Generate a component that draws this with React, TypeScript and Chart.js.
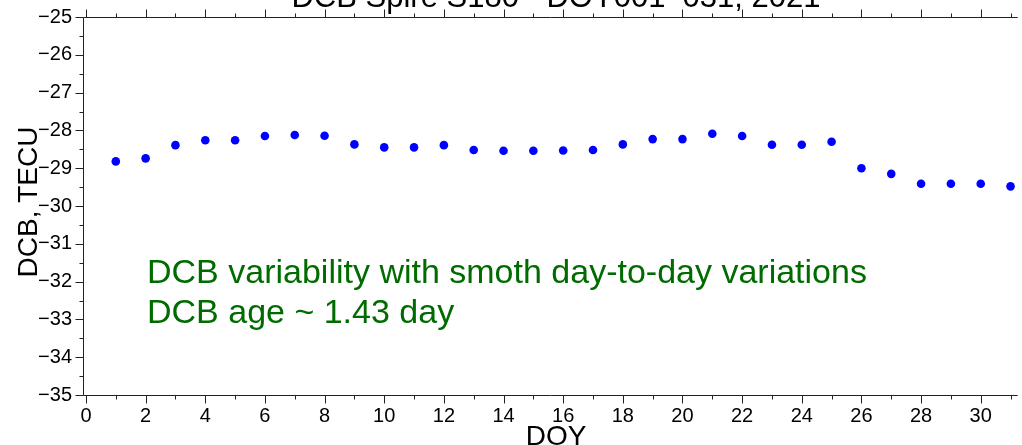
import React, { useEffect, useRef } from "react";
import { Chart, registerables } from "chart.js";

Chart.register(...registerables);

// ---- data ----
const doy: number[] = [
  1, 2, 3, 4, 5, 6, 7, 8, 9, 10, 11, 12, 13, 14, 15, 16,
  17, 18, 19, 20, 21, 22, 23, 24, 25, 26, 27, 28, 29, 30, 31,
];
const dcbValues: number[] = [
  -28.82, -28.74, -28.39, -28.26, -28.26, -28.15, -28.12, -28.14, -28.37, -28.45, -28.45,
  -28.39, -28.52, -28.54, -28.54, -28.53, -28.52, -28.37, -28.23, -28.23, -28.09, -28.15,
  -28.38, -28.38, -28.3, -29.0, -29.15, -29.41, -29.41, -29.41, -29.48,
];
const titleText = "DCB Spire S180 - DOY001\u2013031, 2021";
const xAxisTitle = "DOY";
const yAxisTitle = "DCB, TECU";
const noteLines: string[] = [
  "DCB variability with smoth day-to-day variations",
  "DCB age ~ 1.43 day",
];
const xRange = { min: -0.1, max: 31.24 };
const yRange = { min: -35, max: -25 };
const xMinorTicks: number[] = Array.from({ length: 32 }, (_, i) => i); // 0..31
const yMinorTicks: number[] = Array.from({ length: 21 }, (_, i) => -35 + i * 0.5);

const FONT = "'Liberation Sans', Arial, Helvetica, sans-serif";
const GREEN = "rgb(0,108,0)";

const minus = (v: number) => String(v).replace("-", "\u2212");

const decorPlugin = {
  id: "decor",
  afterDraw(chart: any) {
    const { ctx, chartArea: a, scales } = chart;
    const x = scales.x;
    const y = scales.y;
    ctx.save();
    ctx.strokeStyle = "#222";
    ctx.lineWidth = 1;
    const L = Math.round(a.left) + 0.5;
    const T = Math.round(a.top) + 0.5;
    const B = Math.round(a.bottom) + 0.5;
    ctx.beginPath();
    ctx.moveTo(L, B);
    ctx.lineTo(L, T);
    ctx.lineTo(a.right, T);
    ctx.moveTo(L, B);
    ctx.lineTo(a.right, B);
    for (const v of xMinorTicks) {
      const px = Math.round(x.getPixelForValue(v)) + 0.5;
      const len = v % 2 === 0 ? 8 : 4;
      ctx.moveTo(px, B);
      ctx.lineTo(px, B + len);
      ctx.moveTo(px, T);
      ctx.lineTo(px, T - len);
    }
    for (const v of yMinorTicks) {
      const py = Math.round(y.getPixelForValue(v)) + 0.5;
      const len = Number.isInteger(v) ? 8 : 4;
      ctx.moveTo(L, py);
      ctx.lineTo(L - len, py);
    }
    ctx.stroke();

    // title (partly cut at the top in the reference)
    ctx.fillStyle = "#000";
    ctx.font = `31px ${FONT}`;
    ctx.textAlign = "center";
    ctx.textBaseline = "alphabetic";
    ctx.fillText(titleText, 556, 7);

    // x axis title
    ctx.font = `28px ${FONT}`;
    ctx.fillText(xAxisTitle, 556, 445);

    // y axis title
    ctx.save();
    ctx.translate(37, 202);
    ctx.rotate(-Math.PI / 2);
    ctx.textAlign = "center";
    ctx.textBaseline = "alphabetic";
    ctx.fillText(yAxisTitle, 0, 0);
    ctx.restore();

    // annotations
    ctx.fillStyle = GREEN;
    ctx.font = `34px ${FONT}`;
    ctx.textAlign = "left";
    ctx.textBaseline = "alphabetic";
    ctx.fillText(noteLines[0], 147, 283);
    ctx.fillText(noteLines[1], 147, 323);
    ctx.restore();
  },
};

export default function App() {
  const canvasRef = useRef<HTMLCanvasElement | null>(null);

  useEffect(() => {
    if (!canvasRef.current) return;
    const chart = new Chart(canvasRef.current, {
      type: "scatter",
      data: {
        datasets: [
          {
            data: doy.map((d, i) => ({ x: d, y: dcbValues[i] })),
            backgroundColor: "#0000ff",
            borderWidth: 0,
            pointRadius: 4.3,
            pointHoverRadius: 4.3,
          },
        ],
      },
      options: {
        responsive: false,
        animation: false,
        events: [],
        layout: { padding: { top: 17, left: 0, right: 0, bottom: 0 } },
        plugins: {
          legend: { display: false },
          title: { display: false },
          tooltip: { enabled: false },
        },
        scales: {
          x: {
            type: "linear",
            position: "bottom",
            min: xRange.min,
            max: xRange.max,
            grid: { display: false, drawTicks: false, tickLength: 0 },
            border: { display: false },
            ticks: {
              stepSize: 2,
              includeBounds: false,
              autoSkip: false,
              maxRotation: 0,
              padding: 9,
              color: "#000",
              font: { family: FONT, size: 20 },
              callback: (v: any) => {
                const n = Number(v);
                return Number.isInteger(n) && n % 2 === 0 ? minus(n) : "";
              },
            },
            afterFit: (s: any) => {
              s.height = 50;
              s.paddingLeft = 0;
              s.paddingRight = 0;
            },
          },
          y: {
            type: "linear",
            min: yRange.min,
            max: yRange.max,
            grid: { display: false, drawTicks: false, tickLength: 0 },
            border: { display: false },
            ticks: {
              stepSize: 1,
              padding: 11,
              color: "#000",
              font: { family: FONT, size: 20 },
              callback: (v: any) => minus(Number(v)),
            },
            afterFit: (s: any) => {
              s.width = 83;
              s.paddingTop = 0;
              s.paddingBottom = 0;
            },
          },
        },
      },
      plugins: [decorPlugin],
    });
    return () => chart.destroy();
  }, []);

  return (
    <div style={{ position: "fixed", left: 0, top: 0, width: 1022, height: 445, background: "#fff" }}>
      <canvas ref={canvasRef} width={1022} height={445} />
    </div>
  );
}
